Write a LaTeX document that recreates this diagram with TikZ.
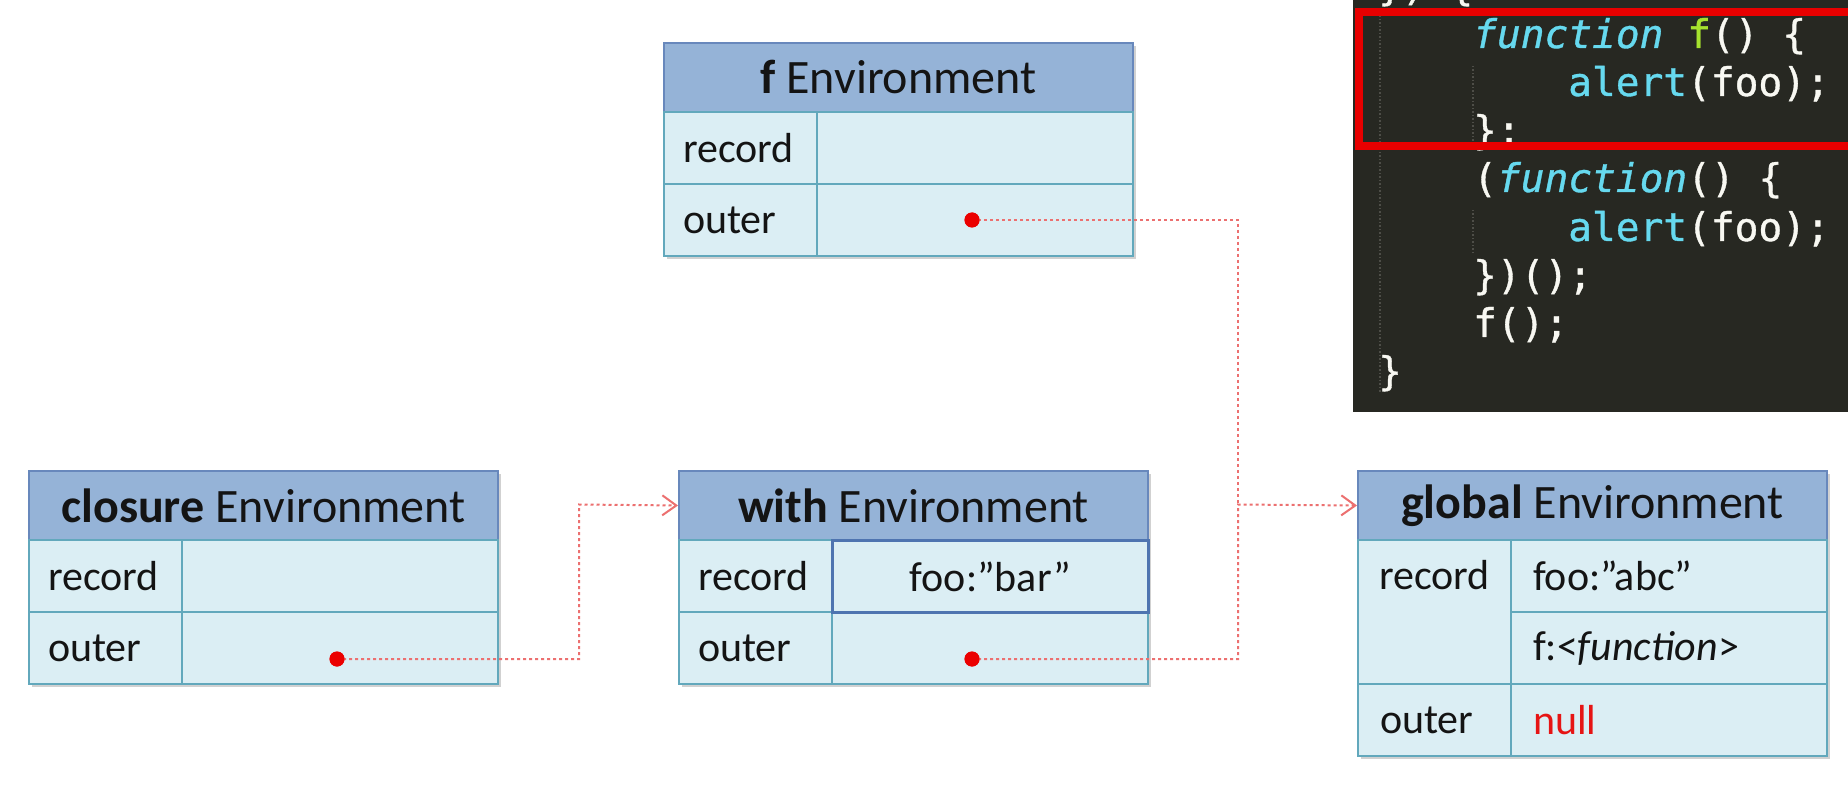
\documentclass[tikz,border=0pt]{standalone}
\usepackage{fontspec}
\setmainfont{Carlito}
\newfontfamily\mycodeface[FakeBold=0.9]{DejaVu Sans Mono}
\usetikzlibrary{arrows.meta}
\definecolor{hdrfill}{RGB}{149,179,215}
\definecolor{hdrline}{RGB}{104,136,188}
\definecolor{cellfill}{RGB}{219,238,244}
\definecolor{cellline}{RGB}{98,168,188}
\definecolor{connc}{RGB}{236,112,112}
\definecolor{dotc}{RGB}{235,0,0}
\definecolor{codebg}{RGB}{39,40,34}
\definecolor{kwblue}{RGB}{102,217,239}
\definecolor{fngreen}{RGB}{166,226,46}
\definecolor{codewhite}{RGB}{248,248,242}
\definecolor{txtc}{RGB}{20,20,20}
\definecolor{nullred}{RGB}{230,20,20}
\definecolor{selblue}{RGB}{78,116,176}
\definecolor{guidec}{RGB}{78,78,72}
\definecolor{boxred}{RGB}{232,0,0}
\newcommand\myhdrfont{\fontsize{48}{57}\selectfont}
\newcommand\mybodyfont{\fontsize{42}{50}\selectfont}
\newcommand\mycodefont{\mycodeface\fontsize{39.5}{48}\selectfont}
\begin{document}
\begin{tikzpicture}[x=1pt,y=-1pt,
  hdr/.style={draw=hdrline, fill=hdrfill, line width=2pt, minimum width=469pt,
    minimum height=69pt, inner sep=0pt, anchor=north west, font=\myhdrfont, text=txtc},
  cellbase/.style={draw=cellline, fill=cellfill, line width=2pt, minimum height=72pt,
    anchor=north west, inner ysep=0pt, font=\mybodyfont, text=txtc},
  key/.style={cellbase, minimum width=153pt, text width=115pt, inner xsep=19pt, align=left},
  val/.style={cellbase, minimum width=316pt, text width=272pt, inner xsep=22pt, align=left},
  valc/.style={cellbase, minimum width=316pt, text width=276pt, inner xsep=20pt, align=center},
  lbl/.style={inner sep=0pt, font=\mybodyfont, text=txtc, anchor=west},
  shadowbox/.style={fill=black, opacity=0.18},
  conn/.style={draw=connc, line width=2pt, dash pattern=on 3pt off 3pt},
  tipc/.style={-{Straight Barb[length=14pt,width=20pt,line width=2pt]}},
  dot/.style={circle, fill=dotc, inner sep=0pt, minimum size=15pt},
  code/.style={inner sep=0pt, anchor=base west, font=\mycodefont, text=codewhite},
  guide/.style={draw=guidec, line width=1.5pt, dash pattern=on 1.5pt off 2pt}
]
\useasboundingbox (0,0) rectangle (1848,794);
\fill[white] (0,0) rectangle (1848,794);

% ---------- code panel ----------
\begin{scope}
\clip (0,0) rectangle (1848,794);
\fill[codebg] (1353,-2) rectangle (1850,412);
\draw[guide] (1380,12) -- (1380,392);
\draw[guide] (1473,66) -- (1473,142);
\draw[guide] (1473,210) -- (1473,254);
\node[code] (c0) at (1378,0) {\}) \{};
\node[code] (c1) at (1473,48) {{\itshape\color{kwblue}function} {\color{fngreen}f}() \{};
\node[code] (c2) at (1568,96) {{\color{kwblue}alert}(foo);};
\node[code] (c3) at (1473,144) {\};};
\node[code] (c4) at (1473,192) {({\itshape\color{kwblue}function}() \{};
\node[code] (c5) at (1568,241) {{\color{kwblue}alert}(foo);};
\node[code] (c6) at (1473,289) {\})();};
\node[code] (c7) at (1473,337) {f();};
\node[code] (c8) at (1378,385) {\}};
\draw[boxred, line width=8pt] (1358.5,12.5) rectangle (1900,146);
\end{scope}

% ---------- shadows ----------
\fill[shadowbox] (667,46) rectangle (1136,259);
\fill[shadowbox] (32,474) rectangle (501,687);
\fill[shadowbox] (682,474) rectangle (1151,687);
\fill[shadowbox] (1361,474) rectangle (1830,759);

% ---------- f Environment ----------
\node[hdr] (fh) at (663,42) {\textbf{f} Environment};
\node[key] (fk1) at (663,111) {record};
\node[val] (fv1) at (816,111) {};
\node[key] (fk2) at (663,183) {outer};
\node[val] (fv2) at (816,183) {};

% ---------- closure Environment ----------
\node[hdr] (ch) at (28,470) {\textbf{closure} Environment};
\node[key] (ck1) at (28,539) {record};
\node[val] (cv1) at (181,539) {};
\node[key] (ck2) at (28,611) {outer};
\node[val] (cv2) at (181,611) {};

% ---------- with Environment ----------
\node[hdr] (wh) at (678,470) {\textbf{with} Environment};
\node[key] (wk2) at (678,611) {outer};
\node[val] (wv2) at (831,611) {};
\node[key] (wk1) at (678,539) {record};
\node[valc, draw=selblue, line width=3pt] (wv1) at (831,539) {foo:”bar”};

% ---------- global Environment ----------
\node[hdr] (gh) at (1357,470) {\textbf{global} Environment};
\node[key, minimum height=144pt] (gk1) at (1357,539) {};
\node[lbl] (gk1t) at (1379,575) {record};
\node[val] (gv1) at (1510,539) {foo:”abc”};
\node[val] (gv2) at (1510,611) {f:<\textit{function}>};
\node[key] (gk2) at (1357,683) {\hspace*{3pt}outer};
\node[val] (gv3) at (1510,683) {\textcolor{nullred}{null}};

% ---------- connectors ----------
\node[dot] (cdot) at (337,659) {};
\node[dot] (wdot) at (972,659) {};
\node[dot] (fdot) at (972,220) {};
\coordinate (j1) at (579,504.5);
\coordinate (j2) at (1238,504.5);
\draw[conn, tipc] (cdot.center) -| (j1) -- (wh.west);
\draw[conn, tipc] (wdot.center) -| (j2) -- (gh.west);
\draw[conn] (fdot.center) -| (j2);
\node[dot] at (cdot) {};
\node[dot] at (wdot) {};
\node[dot] at (fdot) {};
\end{tikzpicture}
\end{document}
